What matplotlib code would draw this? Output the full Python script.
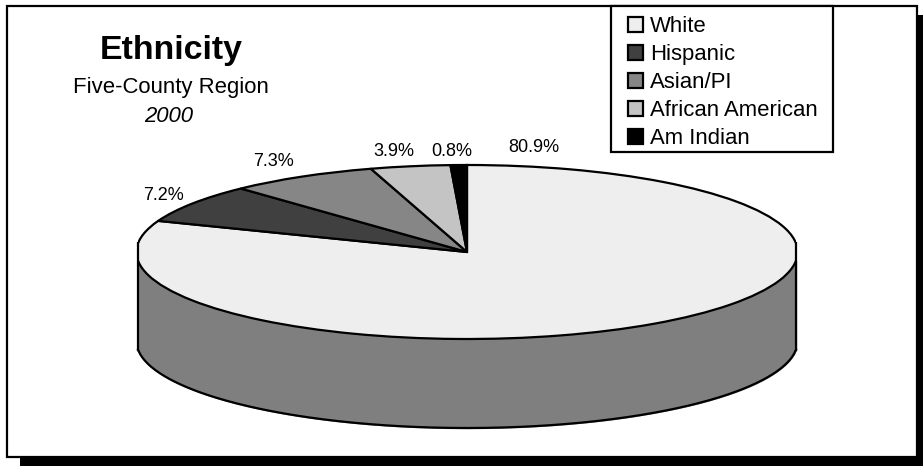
import numpy as np
import matplotlib
matplotlib.use("Agg")
import matplotlib.pyplot as plt

plt.rcParams['font.family'] = ['Liberation Sans', 'DejaVu Sans']

# data
groups = ["White", "Hispanic", "Asian/PI", "African American", "Am Indian"]
shares = [80.9, 7.2, 7.3, 3.9, 0.8]
colors = ["#eeeeee", "#404040", "#868686", "#c4c4c4", "#000000"]
side_color = "#7f7f7f"

W, H = 923, 466
fig = plt.figure(figsize=(W / 100, H / 100), dpi=100, facecolor="white")

# overlay in pixel coords for frame and text
bg = fig.add_axes([0, 0, 1, 1])
bg.set_xlim(0, W)
bg.set_ylim(H, 0)
bg.axis('off')
bg.add_patch(plt.Rectangle((20, 15), 903, 451, fc="black", ec="none"))
bg.add_patch(plt.Rectangle((7, 6), 910, 451, fc="white", ec="black", lw=1.6))

# pie axes, radius 1 = top ellipse. xlim a bit inside 1 because the
# original ellipse is cut off flat at the left and right ends
x0, x1, y0, y1 = 138, 796, 165, 339
edge = 0.995
ax = fig.add_axes([x0 / W, 1 - y1 / H, (x1 - x0) / W, (y1 - y0) / H])
ax.patch.set_alpha(0)
wedges, _ = ax.pie(shares, colors=colors, startangle=90, counterclock=False,
                   wedgeprops=dict(edgecolor="black", linewidth=1.6))
ax.set_aspect('auto')
ax.set_xlim(-edge, edge)
ax.set_ylim(-1, 1)
clip = plt.Rectangle((-edge, -1.1), 2 * edge, 2.2, transform=ax.transData)
for w in wedges:
    w.set_clip_on(True)  # pie turns this off
    w.set_clip_path(clip)

# side wall of the 3D pie
depth = 89 / 87
xs = np.linspace(-edge, edge, 300)
front = -np.sqrt(1 - xs ** 2)
ax.fill_between(xs, front, front - depth, color=side_color, zorder=0.5, clip_on=False)
ax.plot(xs, front - depth, color="black", lw=1.6, clip_on=False, zorder=0.6)
for side in (-edge, edge):
    ax.plot([side, side], [-front[0], front[0] - depth], color="black", lw=1.6,
            clip_on=False, zorder=3)

# slice labels
for s, (px, py) in zip(shares, [(534, 148), (163, 196), (273, 162), (394, 152), (452, 152)]):
    bg.text(px, py, f"{s}%", ha="center", va="center", fontsize=13, zorder=5)

# title block
bg.text(171, 50, "Ethnicity", ha="center", va="center", fontsize=24.4, fontweight="bold")
bg.text(170.5, 88, "Five-County Region", ha="center", va="center", fontsize=15.9)
bg.text(169, 117, "2000", ha="center", va="center", fontsize=15.9, style="italic")

# legend box drawn apart since its padding differs in x and y
bg.add_patch(plt.Rectangle((611, 6), 222, 146, fc="white", ec="black", lw=1.6, zorder=8))
leg = bg.legend(wedges, groups, loc="upper left", bbox_to_anchor=(628 / W, 1 - 16.5 / H),
                bbox_transform=fig.transFigure, fontsize=15.9, frameon=False,
                handlelength=0.68, handleheight=0.68,
                handletextpad=0.3, labelspacing=0.31, borderpad=0, borderaxespad=0)
leg.set_zorder(10)

fig.savefig("out.png", dpi=100)
